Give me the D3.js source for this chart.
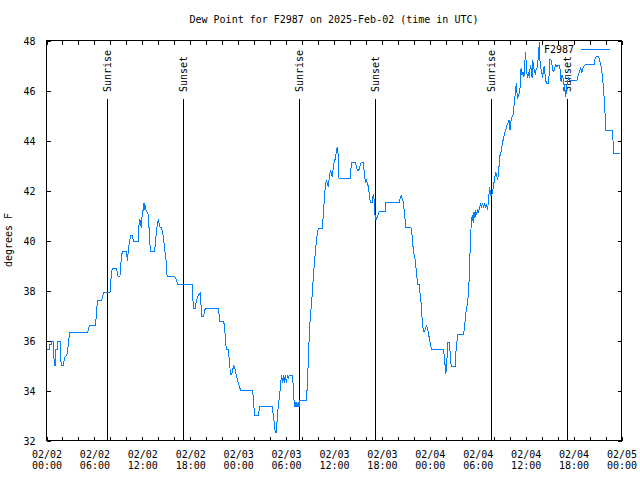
<!DOCTYPE html>
<html>
<head>
<meta charset="utf-8">
<script src="https://cdn.jsdelivr.net/npm/d3@7"></script>
<style>
  html, body { margin: 0; padding: 0; background: #fff; }
  svg { display: block; }
  text { font-family: "DejaVu Sans Mono", "Liberation Mono", monospace; font-size: 10px; fill: #000; }
</style>
</head>
<body>
<svg id="chart" width="640" height="480"></svg>
<script>
// ---------------- DATA ----------------
const title = "Dew Point for F2987 on 2025-Feb-02 (time in UTC)";
const seriesName = "F2987";
const yLabel = "degrees F";
const startUTC = Date.UTC(2025, 1, 2, 0, 0);
const endUTC = Date.UTC(2025, 1, 5, 0, 0);

// hours since 2025-02-02 00:00 UTC
const hours = [
  0.00,0.35,0.40,0.58,0.62,0.88,0.93,1.03,1.12,1.17,1.40,1.44,1.70,1.76,1.84,2.15,2.20,2.34,2.55,2.68,2.80,2.93,
  5.15,5.25,5.39,6.10,6.20,6.31,6.45,6.90,7.00,7.15,7.95,8.03,8.11,8.24,8.74,8.85,8.95,9.20,9.26,9.36,9.49,9.99,
  10.08,10.15,10.20,10.30,10.41,10.54,10.75,10.85,10.95,11.46,11.58,11.70,11.80,11.88,11.96,12.13,12.21,12.30,12.38,
  12.50,12.75,12.84,12.92,13.05,13.46,13.63,13.76,13.88,14.01,14.17,14.42,14.59,14.72,14.84,15.01,15.10,16.06,16.18,
  16.31,16.43,18.27,
  18.35,18.44,18.61,18.77,18.94,19.11,19.23,19.30,19.38,19.44,19.69,19.78,19.94,21.53,21.62,21.70,22.20,22.33,22.41,
  22.54,22.75,22.87,22.96,23.04,23.21,23.29,23.46,23.63,23.79,23.96,24.13,24.29,25.80,25.88,25.97,26.05,26.51,26.63,
  26.72,28.30,28.39,28.56,28.64,28.81,28.89,29.02,29.14,29.31,29.40,29.56,29.65,29.77,29.90,30.07,30.15,30.28,30.40,
  30.82,30.91,30.99,31.12,31.24,31.37,31.54,31.62,31.70,32.57,
  32.70,32.82,32.91,33.07,33.20,33.33,33.41,33.53,33.66,33.79,33.91,34.04,34.54,34.62,34.71,34.79,34.92,35.04,35.17,
  35.29,35.37,35.50,35.58,35.67,35.79,35.92,36.04,36.17,36.29,36.42,36.50,36.63,38.01,38.09,38.17,38.68,38.80,38.93,
  39.09,39.22,39.39,39.68,39.76,39.85,39.97,40.06,40.18,40.35,40.43,40.56,40.77,40.85,40.94,41.02,41.10,41.19,41.27,
  41.44,41.56,41.69,42.40,42.48,44.16,44.28,44.41,44.53,44.66,44.78,44.91,45.00,45.62,45.75,45.87,46.00,46.12,46.25,
  46.37,46.50,46.70,46.79,46.91,46.99,47.08,47.20,47.33,47.46,47.58,47.71,47.84,47.96,48.09,48.21,49.72,49.80,49.93,
  50.01,50.09,50.18,50.26,50.43,50.55,50.68,51.18,51.26,51.39,51.47,52.23,52.35,52.48,52.60,52.73,52.85,52.98,
  53.06,53.19,53.31,53.44,53.52,53.65,53.73,53.86,53.98,54.11,54.23,54.36,54.48,54.61,54.73,54.86,54.99,55.11,55.24,
  55.36,55.49,55.61,55.74,55.86,55.99,56.12,56.24,56.37,56.49,56.62,56.74,56.87,57.00,57.12,57.24,57.37,57.50,57.66,
  57.79,57.91,58.04,58.16,58.29,58.41,58.58,58.71,58.83,58.96,59.08,59.21,59.33,59.42,59.54,59.67,59.79,59.92,60.00,
  60.09,60.21,60.34,60.46,60.59,60.71,60.80,60.88,60.96,61.09,61.21,61.34,61.47,61.55,61.63,61.72,61.80,61.88,62.01,
  62.13,62.22,62.34,62.47,62.59,62.84,62.93,63.01,63.14,63.26,63.39,63.51,63.64,63.76,63.89,64.01,64.27,64.35,64.43,
  64.56,64.68,64.81,64.93,65.02,65.10,65.23,65.35,65.48,66.44,66.52,66.65,66.77,66.90,67.03,67.15,67.28,67.40,67.49,
  68.62,68.70,68.83,69.16,69.29,69.41,69.54,69.67,69.79,69.88,69.96,70.04,70.84,70.92,71.00,71.84
];

const dewPointF = [
  35.65,35.65,35.86,35.86,35.98,35.98,35.30,35.02,35.02,35.65,35.65,35.98,35.98,35.40,35.02,35.02,35.22,35.36,35.40,35.70,36.06,36.33,
  36.33,36.45,36.60,36.60,36.87,37.35,37.62,37.62,37.73,37.93,37.93,38.18,38.63,38.89,38.89,38.75,38.58,38.58,38.82,39.29,39.55,39.55,
  39.35,39.20,39.45,39.75,39.95,40.22,40.22,40.05,39.95,39.95,40.62,40.85,40.60,40.55,40.95,41.29,41.49,41.30,41.35,
  41.18,41.02,40.50,39.95,39.55,39.55,39.80,40.42,40.62,40.85,40.55,40.50,40.22,39.90,39.55,39.09,38.58,38.58,38.48,
  38.38,38.25,38.25,
  37.55,37.29,37.29,37.60,37.75,37.85,37.91,37.60,37.30,36.98,36.98,37.20,37.29,37.29,37.00,36.75,36.75,36.42,35.95,
  35.65,35.65,35.30,34.95,34.66,34.66,34.82,34.98,34.82,34.58,34.35,34.18,34.02,34.02,33.75,33.35,33.02,33.02,33.20,
  33.35,33.35,33.02,32.62,32.33,32.33,32.95,33.35,33.70,34.15,34.61,34.29,34.61,34.29,34.61,34.29,34.61,34.45,34.61,
  34.61,34.00,33.62,33.35,33.55,33.35,33.55,33.35,33.59,33.59,
  34.62,35.35,36.35,37.09,37.55,38.09,38.55,39.02,39.51,39.95,40.31,40.49,40.49,40.82,41.22,41.69,42.22,42.42,42.29,
  42.15,42.42,42.69,42.82,42.69,42.55,42.95,43.15,43.29,43.55,43.75,43.50,42.49,42.49,42.69,43.11,43.11,42.95,42.79,
  42.79,42.95,43.11,43.11,42.82,42.55,42.29,42.40,42.29,42.09,41.75,41.51,41.51,41.75,41.86,41.62,41.15,40.85,40.85,
  40.95,41.06,41.17,41.17,41.54,41.54,41.69,41.81,41.69,41.56,41.22,40.82,40.53,40.53,40.29,39.82,39.49,39.35,38.95,
  38.55,38.26,38.26,37.80,37.51,37.09,36.66,36.35,36.35,36.49,36.59,36.49,36.29,36.02,35.82,35.65,35.65,35.35,34.95,
  34.66,34.95,35.48,35.91,35.91,35.48,34.95,34.95,35.52,35.93,36.26,36.26,36.55,37.02,37.29,37.49,37.95,38.82,
  39.89,40.69,41.02,40.69,41.15,40.91,41.22,41.02,41.22,41.15,41.29,41.49,41.35,41.49,41.29,41.49,41.35,41.42,41.22,
  41.69,42.15,41.82,41.82,41.95,42.22,42.49,42.75,42.62,42.42,42.75,43.35,43.49,43.69,43.95,44.09,44.29,44.42,44.62,
  44.69,44.82,44.42,44.78,44.95,45.02,45.49,45.95,46.29,45.69,45.75,45.89,46.22,46.89,46.62,46.75,46.55,47.22,47.55,
  46.89,46.51,46.75,46.51,47.02,46.82,46.51,47.22,47.02,46.78,46.69,46.89,46.91,47.22,47.55,47.93,47.15,46.89,46.75,
  46.49,46.89,46.93,46.49,46.29,46.29,46.62,47.22,47.26,47.09,46.82,46.75,46.89,47.02,46.95,46.99,46.99,46.69,46.35,
  46.62,46.51,46.22,46.02,45.75,46.02,46.35,46.49,46.42,46.42,46.55,46.69,46.78,46.89,46.72,46.89,46.95,47.02,47.05,
  47.05,47.31,47.35,47.35,47.18,47.02,46.75,46.35,45.89,45.42,44.95,44.42,44.42,44.15,43.49,43.49
];

// Sun events (UTC, hours since start)
const sunEventLabels = ["Sunrise", "Sunset", "Sunrise", "Sunset", "Sunrise", "Sunset"];
const sunEventHours = [7.63, 17.15, 31.63, 41.17, 55.60, 65.21];

const yTicks = [32, 34, 36, 38, 40, 42, 44, 46, 48];
const yDomain = [32, 48];
const majorTickHours = 6;
const minorTickHours = 2;

// ---------------- CHART ----------------
const svg = d3.select("#chart");
const L = 46.5, R = 621.5, T = 40.5, B = 440.5;
const lineColor = "#0080ff";

const x = d3.scaleUtc().domain([new Date(startUTC), new Date(endUTC)]).range([L, R]);
const y = d3.scaleLinear().domain(yDomain).range([B, T]);

const data = hours.map((h, i) => ({ t: new Date(startUTC + h * 3600e3), v: dewPointF[i] }));

svg.append("rect").attr("width", 640).attr("height", 480).attr("fill", "#fff");

// title
svg.append("text").attr("x", 334).attr("y", 23).attr("text-anchor", "middle").text(title);

// y label
svg.append("text").attr("transform", "translate(12,240) rotate(-90)")
  .attr("text-anchor", "middle").text(yLabel);

const majorTimes = d3.utcHour.every(majorTickHours).range(new Date(startUTC), new Date(endUTC + 1));
const minorTimes = d3.utcHour.every(minorTickHours).range(new Date(startUTC), new Date(endUTC + 1));

function styleAxis(g) {
  g.select(".domain").remove();
  g.selectAll(".tick line").attr("stroke", "#000").attr("shape-rendering", "crispEdges");
}

// bottom / top ticks
svg.append("g").attr("transform", `translate(0,${B})`)
  .call(d3.axisBottom(x).tickValues(minorTimes).tickSizeInner(-4).tickSizeOuter(0).tickFormat(""))
  .call(styleAxis);
svg.append("g").attr("transform", `translate(0,${T})`)
  .call(d3.axisTop(x).tickValues(minorTimes).tickSizeInner(-4).tickSizeOuter(0).tickFormat(""))
  .call(styleAxis);

// bottom labels (two lines)
const fmtDate = d3.utcFormat("%m/%d"), fmtTime = d3.utcFormat("%H:%M");
const gxl = svg.append("g").attr("transform", `translate(0,${B})`)
  .call(d3.axisBottom(x).tickValues(majorTimes).tickSizeInner(0).tickSizeOuter(0).tickPadding(0).tickFormat(""))
  .call(g => g.select(".domain").remove());
gxl.selectAll(".tick text").remove();
gxl.selectAll(".tick").append("text")
  .attr("text-anchor", "middle").attr("fill", "#000")
  .each(function(d) {
    const t = d3.select(this);
    t.append("tspan").attr("x", 0).attr("y", 17).text(fmtDate(d));
    t.append("tspan").attr("x", 0).attr("y", 28.5).text(fmtTime(d));
  });

// y axes
svg.append("g").attr("transform", `translate(${L},0)`)
  .call(d3.axisLeft(y).tickValues(yTicks).tickSizeInner(-4).tickSizeOuter(0).tickPadding(11).tickFormat(d3.format("d")))
  .call(styleAxis)
  .call(g => g.selectAll(".tick text").attr("font-family", "DejaVu Sans Mono").attr("font-size", 10).attr("fill", "#000").attr("dy", "0.35em"));
svg.append("g").attr("transform", `translate(${R},0)`)
  .call(d3.axisRight(y).tickValues(yTicks).tickSizeInner(-4).tickSizeOuter(0).tickFormat(""))
  .call(styleAxis);

// frame
svg.append("rect").attr("x", L).attr("y", T).attr("width", R - L).attr("height", B - T)
  .attr("fill", "none").attr("stroke", "#000").attr("shape-rendering", "crispEdges");

// sun event lines & labels
const sunG = svg.append("g");
sunEventHours.forEach((h, i) => {
  const xx = Math.round(x(new Date(startUTC + h * 3600e3))) + 0.5;
  sunG.append("line").attr("x1", xx).attr("x2", xx).attr("y1", 99).attr("y2", B)
    .attr("stroke", "#000").attr("shape-rendering", "crispEdges");
  sunG.append("text").attr("transform", `translate(${xx},92) rotate(-90)`)
    .attr("text-anchor", "start").attr("dy", "0.35em").text(sunEventLabels[i]);
});

// legend
svg.append("text").attr("x", 574).attr("y", 53).attr("text-anchor", "end").text(seriesName);
svg.append("line").attr("x1", 581).attr("x2", 610).attr("y1", 49.5).attr("y2", 49.5)
  .attr("stroke", lineColor).attr("shape-rendering", "crispEdges");

// data line
const line = d3.line().x(d => x(d.t)).y(d => y(d.v));
svg.append("path").datum(data).attr("d", line)
  .attr("fill", "none").attr("stroke", lineColor).attr("stroke-width", 1)
  .attr("shape-rendering", "crispEdges");
</script>
</body>
</html>
